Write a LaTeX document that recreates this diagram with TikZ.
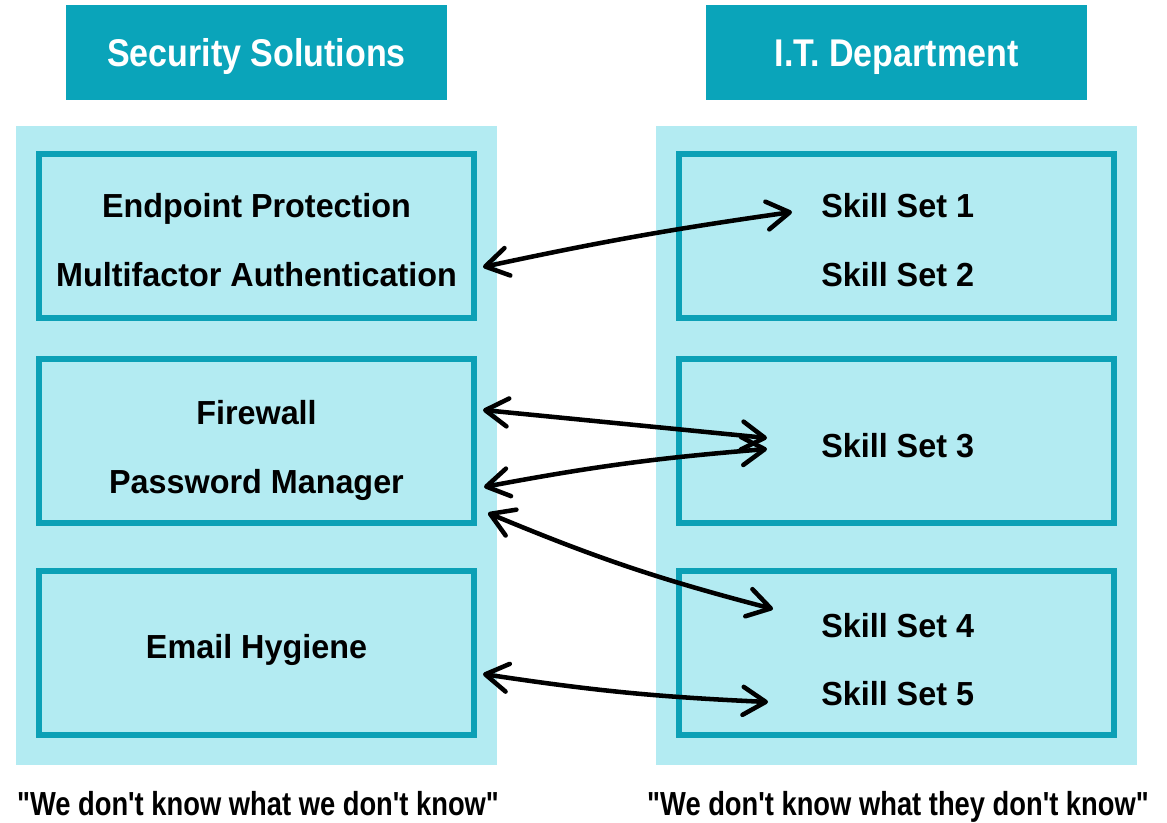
\documentclass[tikz,border=0pt]{standalone}
\usepackage{fontspec}
\setmainfont{Liberation Sans}
\newfontfamily\boxfont{Liberation Sans}[FakeStretch=0.97]
\newfontfamily\headfont{Liberation Sans}[FakeStretch=0.88]
\newfontfamily\quotefont{Liberation Sans}[FakeStretch=0.82]
\usepackage{tikz}
\usetikzlibrary{arrows.meta}
\definecolor{headteal}{RGB}{10,164,186}
\definecolor{panelcyan}{RGB}{179,235,242}
\definecolor{boxteal}{RGB}{12,160,182}

\begin{document}
\begin{tikzpicture}[x=0.75pt, y=-0.75pt,
  header/.style={fill=headteal, text=white, inner sep=0pt,
    minimum width=285.75pt, minimum height=71.25pt,
    text height=21pt, text depth=0pt,
    font=\headfont\bfseries\fontsize{29}{34}\selectfont},
  panel/.style={fill=panelcyan, inner sep=0pt,
    minimum width=360.75pt, minimum height=479.25pt},
  group/.style={draw=boxteal, line width=4.5pt, fill=panelcyan, inner sep=0pt,
    minimum width=326.25pt, minimum height=123pt},
  item/.style={inner sep=0pt, font=\boxfont\bfseries\fontsize{25}{30}\selectfont},
  saying/.style={inner sep=0pt, anchor=base, font=\quotefont\bfseries\fontsize{25}{30}\selectfont},
  link/.style={{Straight Barb[length=17pt,width=21pt,round]}-{Straight Barb[length=17pt,width=21pt,round]},
    line width=3.4pt, line cap=round}
]
  \useasboundingbox (0,0) rectangle (1167,823);

  % Headers
  \node[header] (hsec) at (256.5,52.5) {Security Solutions};
  \node[header] (hit) at (896.5,52.5) {I.T. Department};

  % Panels
  \node[panel] (psec) at (256.5,445.5) {};
  \node[panel] (pit) at (896.5,445.5) {};

  % Left groups
  \node[group] (lb1) at (256.5,236) {};
  \node[group] (lb2) at (256.5,441) {};
  \node[group] (lb3) at (256.5,652.5) {};
  % Right groups
  \node[group] (rb1) at (896.5,236) {};
  \node[group] (rb2) at (896.5,441) {};
  \node[group] (rb3) at (896.5,652.5) {};

  % Solutions
  \node[item, anchor=base] (ep) at (256.5,218) {Endpoint Protection};
  \node[item, anchor=base] (mfa) at (256.5,287) {Multifactor Authentication};
  \node[item, anchor=base] (fw) at (256.5,424) {Firewall};
  \node[item, anchor=base] (pm) at (256.5,493) {Password Manager};
  \node[item, anchor=base] (eh) at (256.5,658) {Email Hygiene};

  % Skill sets
  \node[item, anchor=base west] (s1) at (821,218) {Skill Set 1};
  \node[item, anchor=base west] (s2) at (821,287) {Skill Set 2};
  \node[item, anchor=base west] (s3) at (821,457) {Skill Set 3};
  \node[item, anchor=base west] (s4) at (821,637) {Skill Set 4};
  \node[item, anchor=base west] (s5) at (821,705) {Skill Set 5};

  % Links
  \draw[link] ([shift={(6,31)}]lb1.east) to[bend left=2] ([shift={(-29,-6)}]s1.base west);
  \draw[link] ([shift={(6,-31)}]lb2.east) to ([shift={(-54,-19)}]s3.base west);
  \draw[link] ([shift={(7,46)}]lb2.east) to[bend left=3] ([shift={(-54,-8)}]s3.base west);
  \draw[link] ([shift={(11,72)}]lb2.east) to[bend right=4] ([shift={(-48,-28)}]s4.base west);
  \draw[link] ([shift={(6,21.5)}]lb3.east) to[bend right=3] ([shift={(-53,-3)}]s5.base west);

  % Sayings
  \node[saying] (qsec) at (258,815) {"We don't know what we don't know"};
  \node[saying] (qit) at (898,815) {"We don't know what they don't know"};
\end{tikzpicture}
\end{document}
